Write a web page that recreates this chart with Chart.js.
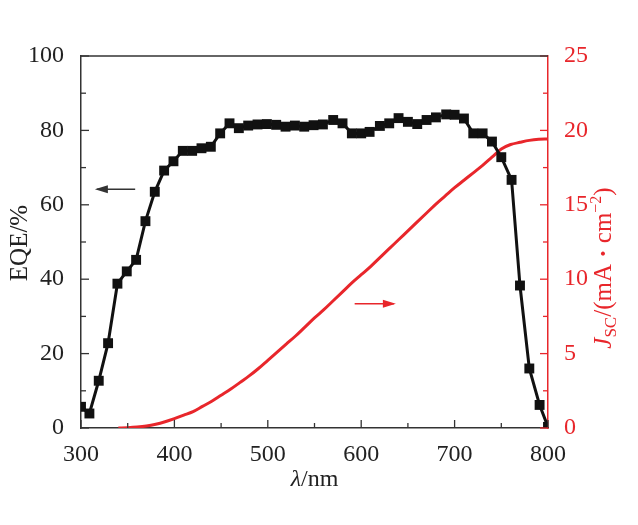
<!DOCTYPE html>
<html lang="zh">

<head>
    <meta charset="UTF-8">
    <title>EQE / Jsc</title>
    <script src="https://cdn.jsdelivr.net/npm/chart.js"></script>
    <style>
        html, body {
            margin: 0;
            padding: 0;
            background: #fff;
        }

        #box {
            width: 638px;
            height: 525px;
        }
    </style>
</head>

<body>
    <div id="box"><canvas id="grafico" width="638" height="525"></canvas></div>
    <script>
        // dados
        const eqeLambda = [300, 309, 319, 329, 339, 349, 359, 369, 379, 389, 399, 409, 419, 429, 439,
            449, 459, 469, 479, 489, 499, 509, 519, 529, 539, 549, 559, 570, 580, 590, 600, 609, 620,
            630, 640, 650, 660, 670, 680, 691, 700, 710, 720, 730, 740, 750, 761, 770, 780, 791, 800];
        const eqeValues = [5.7, 3.9, 12.7, 22.8, 38.8, 42.1, 45.2, 55.6, 63.5, 69.2, 71.7, 74.5, 74.5, 75.2, 75.6,
            79.2, 81.9, 80.6, 81.3, 81.6, 81.7, 81.5, 81.0, 81.3, 81.0, 81.4, 81.6, 82.8, 81.9, 79.2, 79.2, 79.6, 81.2,
            81.9, 83.3, 82.3, 81.7, 82.8, 83.5, 84.3, 84.2, 83.2, 79.2, 79.2, 77.0, 72.8, 66.7, 38.3, 16.0, 6.2, 0.3];

        const jscLambda = [340, 350, 360, 370, 380, 390, 400, 410, 420, 430, 440, 450, 460, 470, 480, 490,
            500, 510, 520, 530, 540, 550, 560, 570, 580, 590, 600, 610, 620, 630, 640, 650, 660, 670,
            680, 690, 700, 710, 720, 730, 740, 750, 760, 770, 780, 790, 800];
        const jscValues = [0, 0.02, 0.06, 0.13, 0.25, 0.42, 0.63, 0.86, 1.1, 1.45, 1.8, 2.2, 2.6, 3.05, 3.5, 4.0,
            4.55, 5.1, 5.65, 6.2, 6.8, 7.4, 7.95, 8.55, 9.15, 9.75, 10.3, 10.85, 11.45, 12.05, 12.65, 13.25, 13.85, 14.45,
            15.05, 15.6, 16.15, 16.65, 17.15, 17.65, 18.2, 18.75, 19.05, 19.2, 19.33, 19.4, 19.42];

        const xTicks = [300, 400, 500, 600, 700, 800];
        const eqeTicks = [0, 20, 40, 60, 80, 100];
        const jscTicks = [0, 5, 10, 15, 20, 25];

        const VERMELHO = '#e8262b';
        const PRETO = '#111';
        const FONTE = "'Liberation Serif', 'DejaVu Serif', serif";

        // ticks para dentro + moldura + titulos dos eixos + setas
        const decoracao = {
            id: 'decoracao',
            afterDraw(chart) {
                const ctx = chart.ctx;
                const a = chart.chartArea;
                const x = chart.scales.x, y = chart.scales.y, y2 = chart.scales.y2;
                ctx.save();
                ctx.lineWidth = 1.3;

                // eixo x (baixo)
                ctx.strokeStyle = '#333';
                for (let v = 300; v <= 800; v += 50) {
                    const px = x.getPixelForValue(v);
                    const len = (v % 100 === 0) ? 8 : 5;
                    ctx.beginPath(); ctx.moveTo(px, a.bottom); ctx.lineTo(px, a.bottom - len); ctx.stroke();
                }
                // eixo y esquerdo
                for (let v = 0; v <= 100; v += 10) {
                    const py = y.getPixelForValue(v);
                    const len = (v % 20 === 0) ? 8 : 5;
                    ctx.beginPath(); ctx.moveTo(a.left, py); ctx.lineTo(a.left + len, py); ctx.stroke();
                }
                // eixo y direito
                ctx.strokeStyle = VERMELHO;
                for (let v = 0; v <= 25; v += 2.5) {
                    const py = y2.getPixelForValue(v);
                    const len = (v % 5 === 0) ? 8 : 5;
                    ctx.beginPath(); ctx.moveTo(a.right, py); ctx.lineTo(a.right - len, py); ctx.stroke();
                }
                // linha de cima
                ctx.strokeStyle = '#333';
                ctx.lineWidth = 1.5;
                ctx.beginPath(); ctx.moveTo(a.left, a.top); ctx.lineTo(a.right, a.top); ctx.stroke();

                // setas
                const seta = (x1, x2, py, cor) => {
                    ctx.strokeStyle = cor; ctx.fillStyle = cor; ctx.lineWidth = 1.5;
                    ctx.beginPath(); ctx.moveTo(x1, py); ctx.lineTo(x2, py); ctx.stroke();
                    const d = x2 > x1 ? 1 : -1;
                    ctx.beginPath();
                    ctx.moveTo(x2 + d * 2, py);
                    ctx.lineTo(x2 - d * 11, py - 4);
                    ctx.lineTo(x2 - d * 11, py + 4);
                    ctx.closePath(); ctx.fill();
                };
                seta(x.getPixelForValue(358), x.getPixelForValue(317), y.getPixelForValue(64.2), '#333');
                seta(x.getPixelForValue(593), x.getPixelForValue(635), y2.getPixelForValue(8.35), VERMELHO);

                // titulo x: λ/nm
                ctx.fillStyle = '#222';
                ctx.textBaseline = 'alphabetic';
                const f = '24px ' + FONTE;
                const fi = 'italic 24px ' + FONTE;
                ctx.font = fi;
                const wL = ctx.measureText('λ').width;
                ctx.font = f;
                const wR = ctx.measureText('/nm').width;
                let cx = (a.left + a.right) / 2 - (wL + wR) / 2;
                ctx.font = fi; ctx.fillText('λ', cx, 486);
                ctx.font = f; ctx.fillText('/nm', cx + wL, 486);

                // titulo y esquerdo
                ctx.save();
                ctx.translate(27, 243);
                ctx.rotate(-Math.PI / 2);
                ctx.textAlign = 'center';
                ctx.font = '25px ' + FONTE;
                ctx.fillText('EQE/%', 0, 0);
                ctx.restore();

                // titulo y direito: Jsc/(mA·cm^-2)
                ctx.save();
                ctx.translate(611, 268);
                ctx.rotate(-Math.PI / 2);
                ctx.fillStyle = VERMELHO;
                const fr = '25px ' + FONTE;
                const partes = [
                    { t: 'J', font: 'italic ' + fr, dy: 0 },
                    { t: 'SC', font: '17px ' + FONTE, dy: 5 },
                    { t: '/(mA', font: fr, dy: 0 },
                    { t: ' · ', font: 'bold ' + fr, dy: 0 },
                    { t: 'cm', font: fr, dy: 0 },
                    { t: '−2', font: '16px ' + FONTE, dy: -10 },
                    { t: ')', font: fr, dy: 0 }
                ];
                let total = 0;
                partes.forEach(p => { ctx.font = p.font; p.w = ctx.measureText(p.t).width; total += p.w; });
                let px = -total / 2;
                partes.forEach(p => { ctx.font = p.font; ctx.fillText(p.t, px, p.dy); px += p.w; });
                ctx.restore();

                ctx.restore();
            }
        };

        let chart;

        function createChart() {
            const ctx = document.getElementById('grafico').getContext('2d');
            chart = new Chart(ctx, {
                type: 'line',
                data: {
                    datasets: [{
                        label: 'EQE',
                        data: eqeLambda.map((l, i) => ({ x: l, y: eqeValues[i] })),
                        yAxisID: 'y',
                        borderColor: PRETO,
                        backgroundColor: PRETO,
                        borderWidth: 3,
                        pointStyle: 'rect',
                        pointRadius: 7,
                        pointBorderWidth: 0,
                        tension: 0
                    }, {
                        label: 'Jsc',
                        data: jscLambda.map((l, i) => ({ x: l, y: jscValues[i] })),
                        yAxisID: 'y2',
                        borderColor: VERMELHO,
                        backgroundColor: VERMELHO,
                        borderWidth: 3,
                        pointRadius: 0,
                        cubicInterpolationMode: 'monotone'
                    }]
                },
                options: {
                    responsive: false,
                    animation: false,
                    layout: { padding: { top: 56, bottom: 0, left: 0, right: 0 } },
                    plugins: {
                        legend: { display: false },
                        tooltip: { enabled: false }
                    },
                    scales: {
                        x: {
                            type: 'linear',
                            min: 300, max: 800,
                            afterBuildTicks: s => { s.ticks = xTicks.map(v => ({ value: v })); },
                            afterFit: s => { s.height = 97; },
                            grid: { display: false },
                            border: { display: true, color: '#333', width: 1.5 },
                            ticks: { color: '#222', font: { family: FONTE, size: 24 }, padding: 4, maxRotation: 0 }
                        },
                        y: {
                            position: 'left',
                            min: 0, max: 100,
                            afterBuildTicks: s => { s.ticks = eqeTicks.map(v => ({ value: v })); },
                            afterFit: s => { s.width = 81; },
                            grid: { display: false },
                            border: { display: true, color: '#333', width: 1.5 },
                            ticks: { color: '#222', font: { family: FONTE, size: 24 }, padding: 9 }
                        },
                        y2: {
                            position: 'right',
                            min: 0, max: 25,
                            afterBuildTicks: s => { s.ticks = jscTicks.map(v => ({ value: v })); },
                            afterFit: s => { s.width = 90; },
                            grid: { display: false },
                            border: { display: true, color: VERMELHO, width: 1.5 },
                            ticks: { color: VERMELHO, font: { family: FONTE, size: 24 }, padding: 8 }
                        }
                    }
                },
                plugins: [decoracao]
            });
        }

        window.onload = () => {
            createChart();
        };
    </script>
</body>

</html>
